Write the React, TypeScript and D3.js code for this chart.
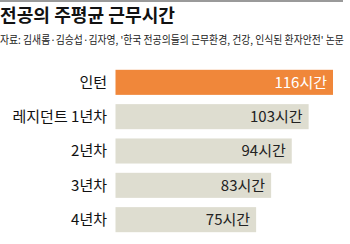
import React from "react";
import * as d3 from "d3";

const categories = ["인턴", "레지던트 1년차", "2년차", "3년차", "4년차"];
const values = [116, 103, 94, 83, 75];
const unit = "시간";
const title = "전공의 주평균 근무시간";
const subtitle = "자료: 김새롬·김승섭·김자영, '한국 전공의들의 근무환경, 건강, 인식된 환자안전' 논문";

export default function App() {
  const W = 350, H = 244;
  const x = d3.scaleLinear().domain([0, 116]).range([115.5, 333]);
  const y = d3.scaleBand().domain(categories).range([65, 237]).paddingInner(0.27).paddingOuter(0.14);
  const font = "'Noto Sans CJK KR', 'Noto Sans', sans-serif";
  return (
    <svg width={W} height={H} style={{ position: "absolute", left: 0, top: 0, background: "#fff" }}>
      <rect x={0} y={0} width={343} height={2} fill="#9a9a9a" />
      <text x={0} y={22} fontFamily={font} fontWeight={700} fontSize={18.5} fill="#111" textLength={175} lengthAdjust="spacingAndGlyphs">{title}</text>
      <text x={0} y={44} fontFamily={font} fontSize={9.85} fill="#222" transform="translate(0,44) scale(1,1.1) translate(0,-44)">{subtitle}</text>
      {categories.map((c, i) => {
        const y0 = y(c)!;
        const bw = y.bandwidth();
        const orange = i === 0;
        return (
          <g key={c}>
            <rect x={x(0)} y={y0} width={x(values[i]) - x(0)} height={bw} fill={orange ? "#F0873A" : "#DEDDD0"} />
            <text x={107} y={y0 + bw / 2} dy="0.36em" textAnchor="end" fontFamily={font} fontSize={15} fill="#111">{c}</text>
            <text x={x(values[i]) - 6} y={y0 + bw / 2} dy="0.36em" textAnchor="end" fontFamily={font} fontSize={15} fill={orange ? "#fff" : "#222"}>{values[i] + unit}</text>
          </g>
        );
      })}
    </svg>
  );
}
